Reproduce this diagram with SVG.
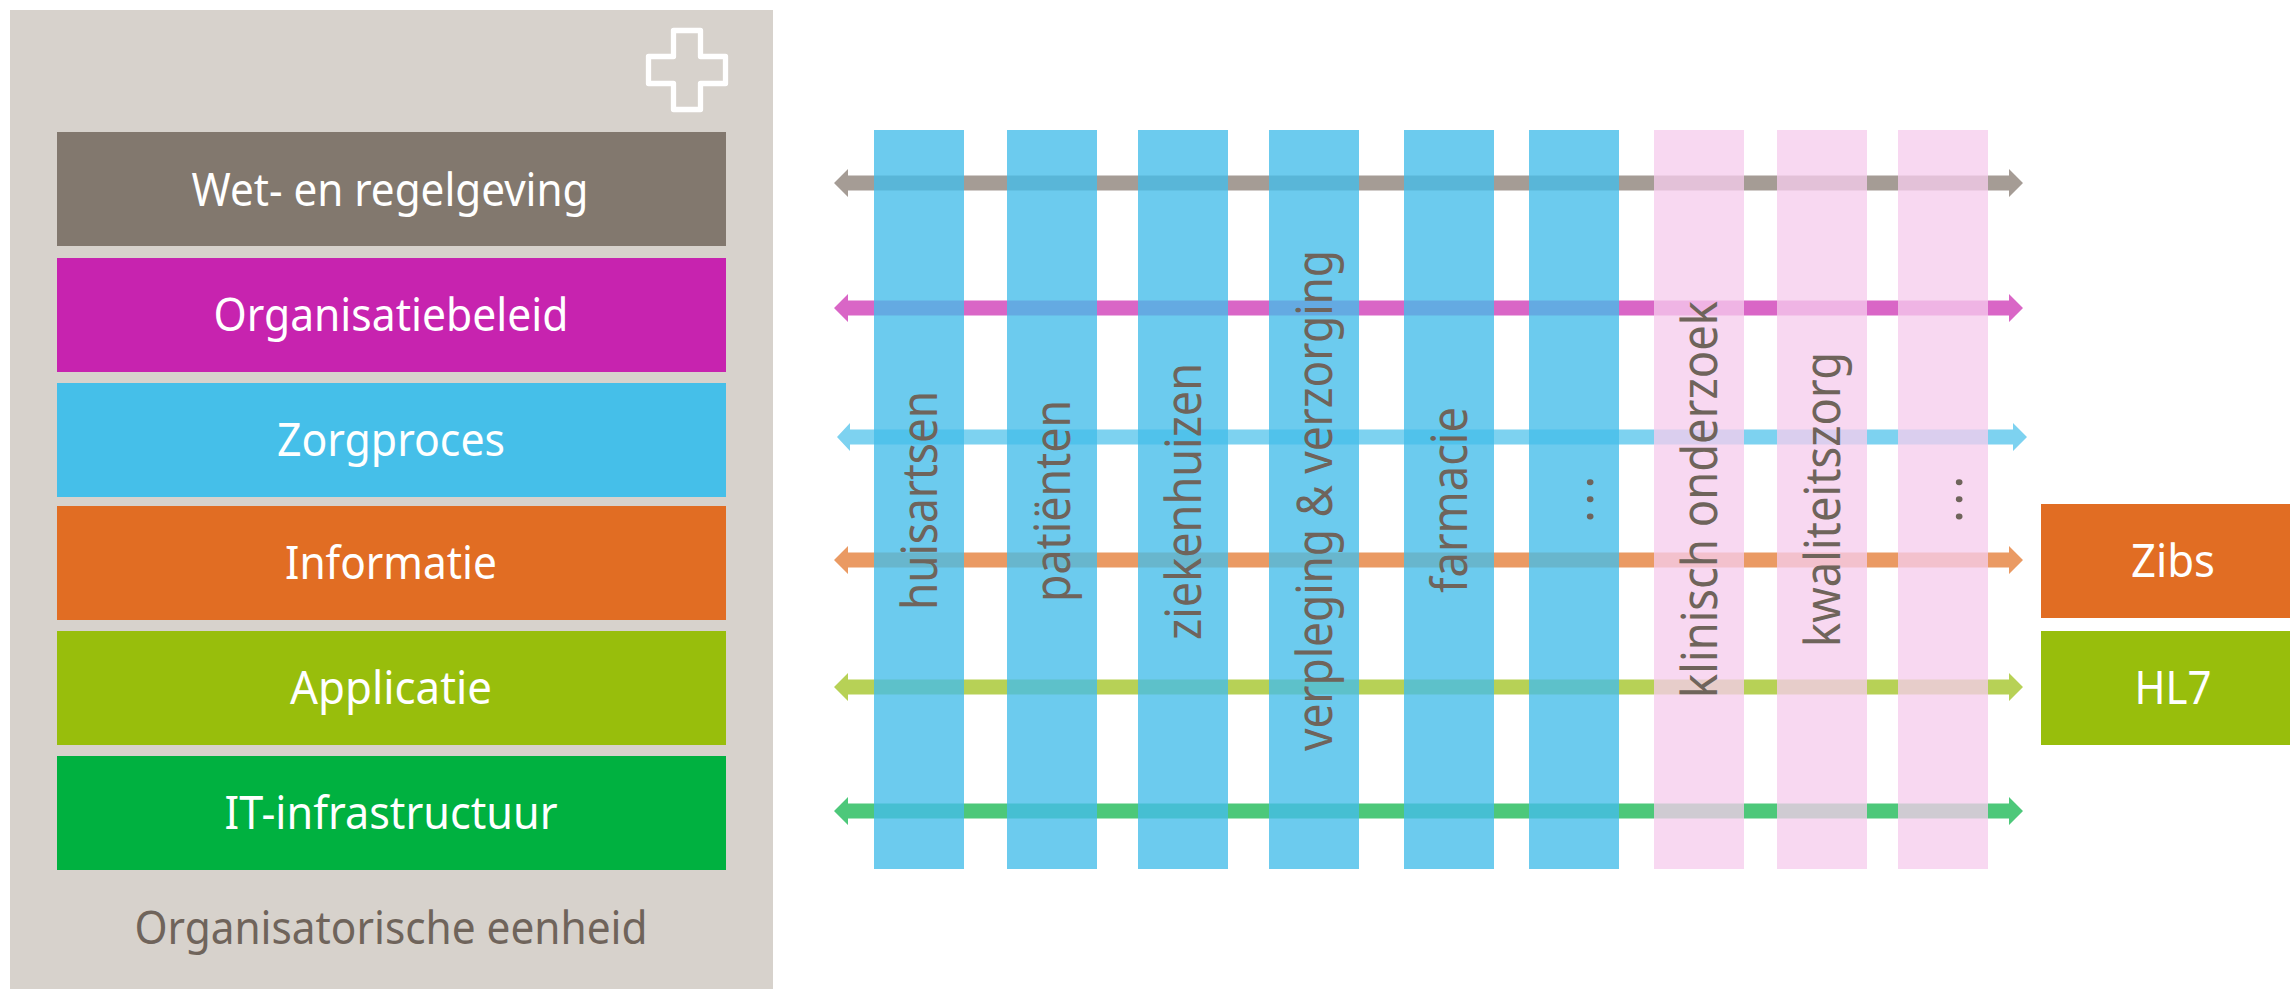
<svg xmlns="http://www.w3.org/2000/svg" width="2290" height="989" viewBox="0 0 2290 989">
<style>
text{font-family:"Noto Sans","Open Sans","Liberation Sans",sans-serif;font-weight:400;font-variant-ligatures:none}
.w{fill:#fff;font-size:46px;text-anchor:middle}
.g{fill:#6f645b;font-size:46px;text-anchor:middle}
.v{fill:#6f645b;font-size:49px;text-anchor:start}
.b{fill:#44bde9;fill-opacity:.79}
.p{fill:#f6cced;fill-opacity:.77}
</style>
<rect width="2290" height="989" fill="#fff"/>
<g id="panel"><rect x="10" y="10" width="763" height="979" fill="#d7d2cc"/>
<path d="M673.500 30.500h27v26h25v27h-25v26h-27v-26h-25v-27h25z" fill="none" stroke="#fff" stroke-width="5.300" stroke-linejoin="round"/>
<text class="g" x="391" y="944" textLength="513" lengthAdjust="spacingAndGlyphs">Organisatorische eenheid</text></g>
<g id="n1"><rect x="57" y="132" width="669" height="114" fill="#82786e"/><text class="w" x="390" y="206" textLength="397" lengthAdjust="spacingAndGlyphs">Wet- en regelgeving</text></g>
<g id="n2"><rect x="57" y="258" width="669" height="114" fill="#c723af"/><text class="w" x="391" y="331" textLength="355" lengthAdjust="spacingAndGlyphs">Organisatiebeleid</text></g>
<g id="n3"><rect x="57" y="383" width="669" height="114" fill="#45bfe9"/><text class="w" x="391" y="456" textLength="228" lengthAdjust="spacingAndGlyphs">Zorgproces</text></g>
<g id="n4"><rect x="57" y="506" width="669" height="114" fill="#e16d23"/><text class="w" x="391" y="579" textLength="212" lengthAdjust="spacingAndGlyphs">Informatie</text></g>
<g id="n5"><rect x="57" y="631" width="669" height="114" fill="#98be0c"/><text class="w" x="391" y="704" textLength="202" lengthAdjust="spacingAndGlyphs">Applicatie</text></g>
<g id="n6"><rect x="57" y="756" width="669" height="114" fill="#00b140"/><text class="w" x="391" y="829" textLength="333" lengthAdjust="spacingAndGlyphs">IT-infrastructuur</text></g>
<g id="connectors">
<path d="M834 183l14-14v6.500h1161v-6.500l14 14-14 14v-6.500H848v6.500z" fill="#a59c95"/>
<path d="M834 308l14-14v6.500h1161v-6.500l14 14-14 14v-6.500H848v6.500z" fill="#d966c6"/>
<path d="M837 437l13-14v6.500h1163v-6.500l14 14-14 14v-6.500H850v6.500z" fill="#7dd2f0"/>
<path d="M834 560l14-14v6.500h1161v-6.500l14 14-14 14v-6.500H848v6.500z" fill="#ea9a63"/>
<path d="M834 687l14-14v6.500h1161v-6.500l14 14-14 14v-6.500H848v6.500z" fill="#b7d156"/>
<path d="M834 811l14-14v6.500h1161v-6.500l14 14-14 14v-6.500H848v6.500z" fill="#4dc87a"/>
</g>
<g id="c1"><rect class="b" x="874" y="130" width="90" height="739"/><text class="v" transform="translate(937 610) rotate(-90)" textLength="219" lengthAdjust="spacingAndGlyphs">huisartsen</text></g>
<g id="c2"><rect class="b" x="1007" y="130" width="90" height="739"/><text class="v" transform="translate(1070 602) rotate(-90)" textLength="202" lengthAdjust="spacingAndGlyphs">patiënten</text></g>
<g id="c3"><rect class="b" x="1138" y="130" width="90" height="739"/><text class="v" transform="translate(1201 640) rotate(-90)" textLength="277" lengthAdjust="spacingAndGlyphs">ziekenhuizen</text></g>
<g id="c4"><rect class="b" x="1269" y="130" width="90" height="739"/><text class="v" transform="translate(1332 751) rotate(-90)" textLength="501" lengthAdjust="spacingAndGlyphs">verpleging &amp; verzorging</text></g>
<g id="c5"><rect class="b" x="1404" y="130" width="90" height="739"/><text class="v" transform="translate(1467 593) rotate(-90)" textLength="186" lengthAdjust="spacingAndGlyphs">farmacie</text></g>
<g id="c6"><rect class="b" x="1529" y="130" width="90" height="739"/><text class="v" transform="translate(1592.500 523) rotate(-90)" letter-spacing="4">...</text></g>
<g id="c7"><rect class="p" x="1654" y="130" width="90" height="739"/><text class="v" transform="translate(1717 698) rotate(-90)" textLength="397" lengthAdjust="spacingAndGlyphs">klinisch onderzoek</text></g>
<g id="c8"><rect class="p" x="1777" y="130" width="90" height="739"/><text class="v" transform="translate(1840 647) rotate(-90)" textLength="295" lengthAdjust="spacingAndGlyphs">kwaliteitszorg</text></g>
<g id="c9"><rect class="p" x="1898" y="130" width="90" height="739"/><text class="v" transform="translate(1961.500 523) rotate(-90)" letter-spacing="4">...</text></g>
<g id="zibs"><rect x="2041" y="504" width="249" height="114" fill="#e16d23"/><text class="w" x="2173" y="577" textLength="84" lengthAdjust="spacingAndGlyphs">Zibs</text></g>
<g id="hl7"><rect x="2041" y="631" width="249" height="114" fill="#98be0c"/><text class="w" x="2173" y="704" textLength="77" lengthAdjust="spacingAndGlyphs">HL7</text></g>
</svg>
